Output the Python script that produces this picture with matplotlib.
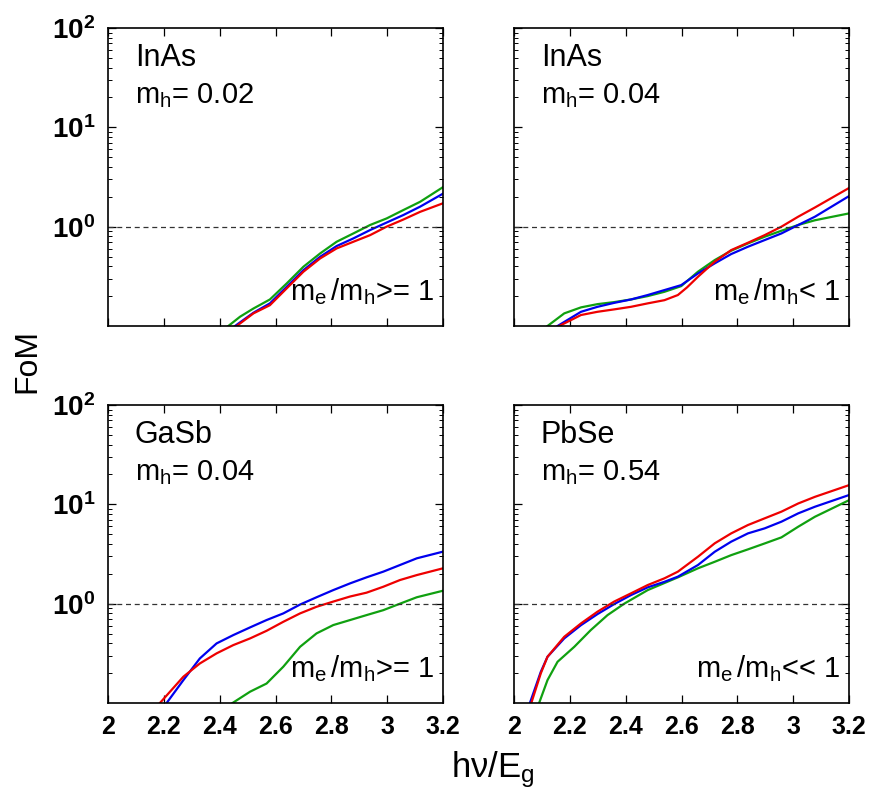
import numpy as np
import matplotlib
matplotlib.use("Agg")
from matplotlib import pyplot as plt
from matplotlib.ticker import LogLocator, NullFormatter

plt.rcParams['font.family'] = ['Liberation Sans', 'DejaVu Sans']
plt.rcParams['mathtext.fontset'] = 'custom'
plt.rcParams['mathtext.rm'] = 'Liberation Sans'
plt.rcParams['mathtext.it'] = 'Liberation Sans:italic'
plt.rcParams['mathtext.bf'] = 'Liberation Sans:bold'

# panel 1: InAs, m_h = 0.02
p1_green_x = [2.431, 2.473, 2.521, 2.580, 2.640, 2.700, 2.760, 2.819, 2.879, 2.939, 2.998, 3.058, 3.118, 3.20]
p1_green_y = [0.10, 0.124, 0.150, 0.185, 0.268, 0.395, 0.538, 0.705, 0.855, 1.04, 1.21, 1.47, 1.78, 2.50]
p1_blue_x = [2.455, 2.521, 2.580, 2.640, 2.700, 2.760, 2.819, 2.879, 2.939, 2.998, 3.058, 3.118, 3.20]
p1_blue_y = [0.10, 0.136, 0.169, 0.248, 0.365, 0.498, 0.638, 0.762, 0.925, 1.10, 1.31, 1.59, 2.15]
p1_red_x = [2.461, 2.521, 2.580, 2.640, 2.700, 2.760, 2.819, 2.879, 2.939, 2.998, 3.058, 3.118, 3.20]
p1_red_y = [0.10, 0.134, 0.162, 0.239, 0.352, 0.479, 0.604, 0.705, 0.822, 1.00, 1.18, 1.41, 1.72]

# panel 2: InAs, m_h = 0.04
p2_green_x = [2.120, 2.180, 2.240, 2.299, 2.359, 2.419, 2.479, 2.539, 2.599, 2.659, 2.719, 2.778, 2.838, 2.898, 2.958, 3.018, 3.078, 3.20]
p2_green_y = [0.10, 0.134, 0.154, 0.166, 0.174, 0.185, 0.200, 0.221, 0.252, 0.352, 0.461, 0.573, 0.678, 0.792, 0.91, 1.04, 1.16, 1.36]
p2_blue_x = [2.156, 2.240, 2.299, 2.359, 2.419, 2.479, 2.539, 2.599, 2.659, 2.719, 2.778, 2.838, 2.898, 2.958, 3.006, 3.078, 3.20]
p2_blue_y = [0.10, 0.139, 0.156, 0.171, 0.185, 0.205, 0.230, 0.258, 0.338, 0.427, 0.530, 0.628, 0.733, 0.855, 1.00, 1.26, 2.03]
p2_red_x = [2.162, 2.240, 2.299, 2.359, 2.419, 2.479, 2.539, 2.587, 2.620, 2.659, 2.719, 2.778, 2.838, 2.898, 2.958, 3.018, 3.078, 3.20]
p2_red_y = [0.10, 0.129, 0.139, 0.147, 0.156, 0.169, 0.182, 0.205, 0.245, 0.313, 0.444, 0.581, 0.689, 0.822, 1.00, 1.26, 1.56, 2.45]

# panel 3: GaSb, m_h = 0.04
p3_green_x = [2.446, 2.509, 2.568, 2.628, 2.688, 2.747, 2.807, 2.867, 2.926, 2.986, 3.046, 3.106, 3.20]
p3_green_y = [0.10, 0.130, 0.157, 0.232, 0.368, 0.502, 0.609, 0.684, 0.767, 0.86, 1.00, 1.16, 1.35]
p3_blue_x = [2.210, 2.270, 2.329, 2.389, 2.449, 2.509, 2.568, 2.628, 2.688, 2.747, 2.807, 2.867, 2.926, 2.986, 3.046, 3.106, 3.20]
p3_blue_y = [0.10, 0.170, 0.281, 0.398, 0.483, 0.577, 0.684, 0.798, 0.98, 1.16, 1.37, 1.60, 1.84, 2.10, 2.45, 2.86, 3.34]
p3_red_x = [2.186, 2.270, 2.329, 2.389, 2.449, 2.509, 2.568, 2.628, 2.688, 2.747, 2.807, 2.867, 2.926, 2.986, 3.046, 3.106, 3.20]
p3_red_y = [0.10, 0.184, 0.250, 0.316, 0.383, 0.447, 0.533, 0.657, 0.798, 0.93, 1.05, 1.18, 1.29, 1.48, 1.73, 1.94, 2.27]

# panel 4: PbSe, m_h = 0.54
p4_green_x = [2.090, 2.120, 2.156, 2.216, 2.275, 2.335, 2.395, 2.479, 2.587, 2.659, 2.719, 2.778, 2.838, 2.898, 2.958, 3.018, 3.078, 3.20]
p4_green_y = [0.10, 0.170, 0.260, 0.368, 0.542, 0.767, 1.00, 1.37, 1.84, 2.27, 2.64, 3.08, 3.52, 4.04, 4.65, 5.95, 7.50, 11.0]
p4_blue_x = [2.057, 2.096, 2.120, 2.180, 2.240, 2.299, 2.359, 2.419, 2.479, 2.539, 2.587, 2.659, 2.719, 2.778, 2.838, 2.898, 2.958, 3.018, 3.078, 3.20]
p4_blue_y = [0.10, 0.206, 0.292, 0.447, 0.608, 0.785, 0.99, 1.22, 1.46, 1.66, 1.87, 2.45, 3.33, 4.21, 5.10, 5.73, 6.69, 8.11, 9.46, 12.4]
p4_red_x = [2.062, 2.096, 2.120, 2.180, 2.240, 2.299, 2.359, 2.419, 2.479, 2.539, 2.587, 2.659, 2.719, 2.778, 2.838, 2.898, 2.958, 3.018, 3.078, 3.20]
p4_red_y = [0.10, 0.199, 0.292, 0.464, 0.633, 0.83, 1.05, 1.27, 1.54, 1.80, 2.10, 2.97, 4.05, 5.10, 6.19, 7.23, 8.44, 10.2, 11.9, 15.6]

panels = [
    ("InAs", "0.02", r"m$_\mathrm{e}\,$/m$_\mathrm{h}$>= 1",
     (p1_green_x, p1_green_y), (p1_blue_x, p1_blue_y), (p1_red_x, p1_red_y)),
    ("InAs", "0.04", r"m$_\mathrm{e}\,$/m$_\mathrm{h}$< 1",
     (p2_green_x, p2_green_y), (p2_blue_x, p2_blue_y), (p2_red_x, p2_red_y)),
    ("GaSb", "0.04", r"m$_\mathrm{e}\,$/m$_\mathrm{h}$>= 1",
     (p3_green_x, p3_green_y), (p3_blue_x, p3_blue_y), (p3_red_x, p3_red_y)),
    ("PbSe", "0.54", r"m$_\mathrm{e}\,$/m$_\mathrm{h}$<< 1",
     (p4_green_x, p4_green_y), (p4_blue_x, p4_blue_y), (p4_red_x, p4_red_y)),
]

xticks = [2, 2.2, 2.4, 2.6, 2.8, 3, 3.2]
xticklabels = ["2", "2.2", "2.4", "2.6", "2.8", "3", "3.2"]
yticks = [1, 10, 100]
yticklabels = [r"$\mathbf{10^{0}}$", r"$\mathbf{10^{1}}$", r"$\mathbf{10^{2}}$"]

fig = plt.figure(figsize=(8.71, 7.91), dpi=100)
W, H = 871, 791
boxes = [(108, 28), (514, 28), (108, 405), (514, 405)]
aw, ah = 335, 298

for i, (box, pan) in enumerate(zip(boxes, panels)):
    name, mh, ratio, g, b, r = pan
    left, top = box
    ax = fig.add_axes([left / W, 1 - (top + ah) / H, aw / W, ah / H])
    ax.set_yscale('log')
    ax.plot(g[0], g[1], color='#10a010', lw=1.6)
    ax.plot(b[0], b[1], color='#0000ee', lw=1.6)
    ax.plot(r[0], r[1], color='#ee0000', lw=1.6)
    ax.axhline(1, color='#333333', lw=0.9, dashes=(4, 3))
    ax.set_xlim(2, 3.2)
    ax.set_ylim(0.1, 100)
    ax.set_xticks(xticks)
    ax.set_yticks(yticks)
    ax.yaxis.set_minor_locator(LogLocator(base=10, subs=np.arange(2, 10)))
    ax.yaxis.set_minor_formatter(NullFormatter())
    ax.tick_params(which='both', direction='in', top=True, right=True)
    ax.tick_params(which='major', length=6, width=0.9)
    ax.tick_params(which='minor', length=3, width=0.7)
    ax.tick_params(axis='x', pad=9)
    ax.tick_params(axis='y', pad=9)
    if i >= 2:
        ax.set_xticklabels(xticklabels, fontsize=18, fontweight='bold')
    else:
        ax.set_xticklabels([])
    if i % 2 == 0:
        ax.set_yticklabels(yticklabels, fontsize=20)
    else:
        ax.set_yticklabels([])
    for s in ax.spines.values():
        s.set_linewidth(1.2)
    ax.text(0.08, 0.948, name, transform=ax.transAxes, fontsize=22, va='top', ha='left')
    ax.text(0.08, 0.822, r"m$_\mathrm{h}$= " + mh, transform=ax.transAxes,
            fontsize=21, va='top', ha='left')
    ax.text(0.975, 0.065, ratio, transform=ax.transAxes, fontsize=21, va='bottom', ha='right')

fig.text(0.031, 0.543, "FoM", rotation=90, fontsize=23, ha='center', va='center')
fig.text(0.566, 0.027, r"hν/E$_\mathrm{g}$", fontsize=25, ha='center', va='center')

fig.savefig("out.png", dpi=100)
